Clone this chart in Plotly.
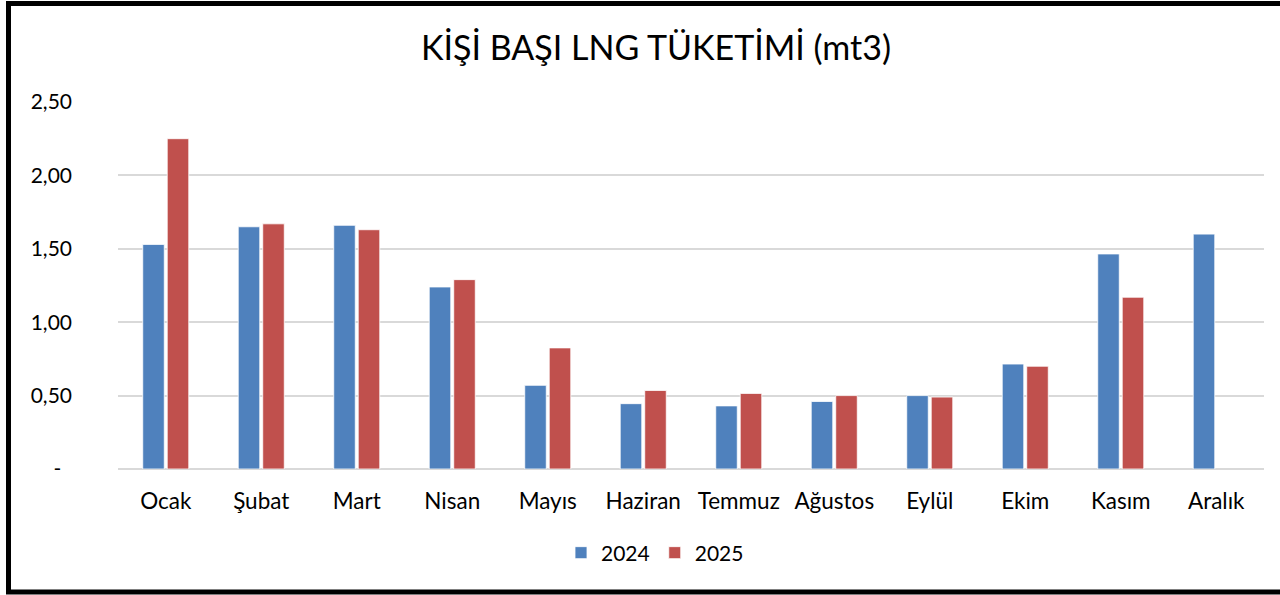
import plotly.graph_objects as go

months = ["Ocak", "Şubat", "Mart", "Nisan", "Mayıs", "Haziran", "Temmuz",
          "Ağustos", "Eylül", "Ekim", "Kasım", "Aralık"]
v2024 = [1.53, 1.65, 1.66, 1.24, 0.57, 0.445, 0.43, 0.46, 0.50, 0.715, 1.465, 1.60]
v2025 = [2.25, 1.67, 1.63, 1.29, 0.825, 0.535, 0.515, 0.50, 0.49, 0.70, 1.17, None]
tick_vals = [0, 0.5, 1.0, 1.5, 2.0, 2.5]
tick_text = ["-\u00a0\u00a0", "0,50", "1,00", "1,50", "2,00", "2,50"]

W, H = 1280, 595
L, R, T, B = 118, 16, 102, 126
pw, ph = W - L - R, H - T - B

def px_x(x):
    return (x - L) / pw

def px_y(y):
    return (H - B - y) / ph

font_family = "Lato, 'Open Sans', sans-serif"

fig = go.Figure()
fig.add_trace(go.Bar(name="2024", x=months, y=v2024,
                     marker=dict(color="#4F81BD", line=dict(color="#FFFFFF", width=0.8))))
fig.add_trace(go.Bar(name="2025", x=months, y=v2025,
                     marker=dict(color="#C0504D", line=dict(color="#FFFFFF", width=0.8))))

fig.update_layout(
    width=W, height=H,
    margin=dict(l=L, r=R, t=T, b=B),
    paper_bgcolor="white", plot_bgcolor="white",
    barmode="group", bargap=0.487, bargroupgap=0.12,
    font=dict(family=font_family, size=21, color="#000000"),
    title=dict(text="KİŞİ BAŞI LNG TÜKETİMİ (mt3)", x=656 / W, xanchor="center",
               y=1 - 48 / H, yanchor="middle",
               font=dict(family=font_family, size=34, color="#000000")),
    showlegend=True,
    legend=dict(orientation="h", x=px_x(561), xanchor="left", y=px_y(553), yanchor="middle",
                font=dict(size=21), itemwidth=30, traceorder="normal",
                bgcolor="rgba(0,0,0,0)"),
    xaxis=dict(showgrid=False, showline=False, ticks="", ticklabelstandoff=16,
               tickfont=dict(size=22.5)),
    yaxis=dict(range=[0, 2.5], tickvals=tick_vals, ticktext=tick_text,
               showgrid=True, gridcolor="#D9D9D9", gridwidth=1.5,
               zeroline=True, zerolinecolor="#D9D9D9", zerolinewidth=1.5,
               showline=False, ticks="", ticklabelstandoff=45,
               tickfont=dict(size=21)),
)

# outer chart frame: left, top and bottom edges (right edge lies outside the picture)
frame = dict(color="#000000", width=5)
fig.add_shape(type="line", xref="paper", yref="paper",
              x0=px_x(8.5), x1=px_x(8.5), y0=px_y(592), y1=px_y(1), line=frame, layer="above")
fig.add_shape(type="line", xref="paper", yref="paper",
              x0=px_x(6), x1=px_x(1282), y0=px_y(3.5), y1=px_y(3.5), line=frame, layer="above")
fig.add_shape(type="line", xref="paper", yref="paper",
              x0=px_x(6), x1=px_x(1282), y0=px_y(592), y1=px_y(592), line=frame, layer="above")
# keep the right margin strip clean between the top and bottom frame lines
fig.add_shape(type="rect", xref="paper", yref="paper",
              x0=px_x(1266), x1=px_x(1282), y0=px_y(589), y1=px_y(6.5),
              line=dict(width=0), fillcolor="#FFFFFF", layer="above")

fig.write_html("out.html", config={"displayModeBar": False},
               post_script="document.documentElement.style.overflow='hidden';"
                           "document.body.style.margin='0';document.body.style.overflow='hidden';")
